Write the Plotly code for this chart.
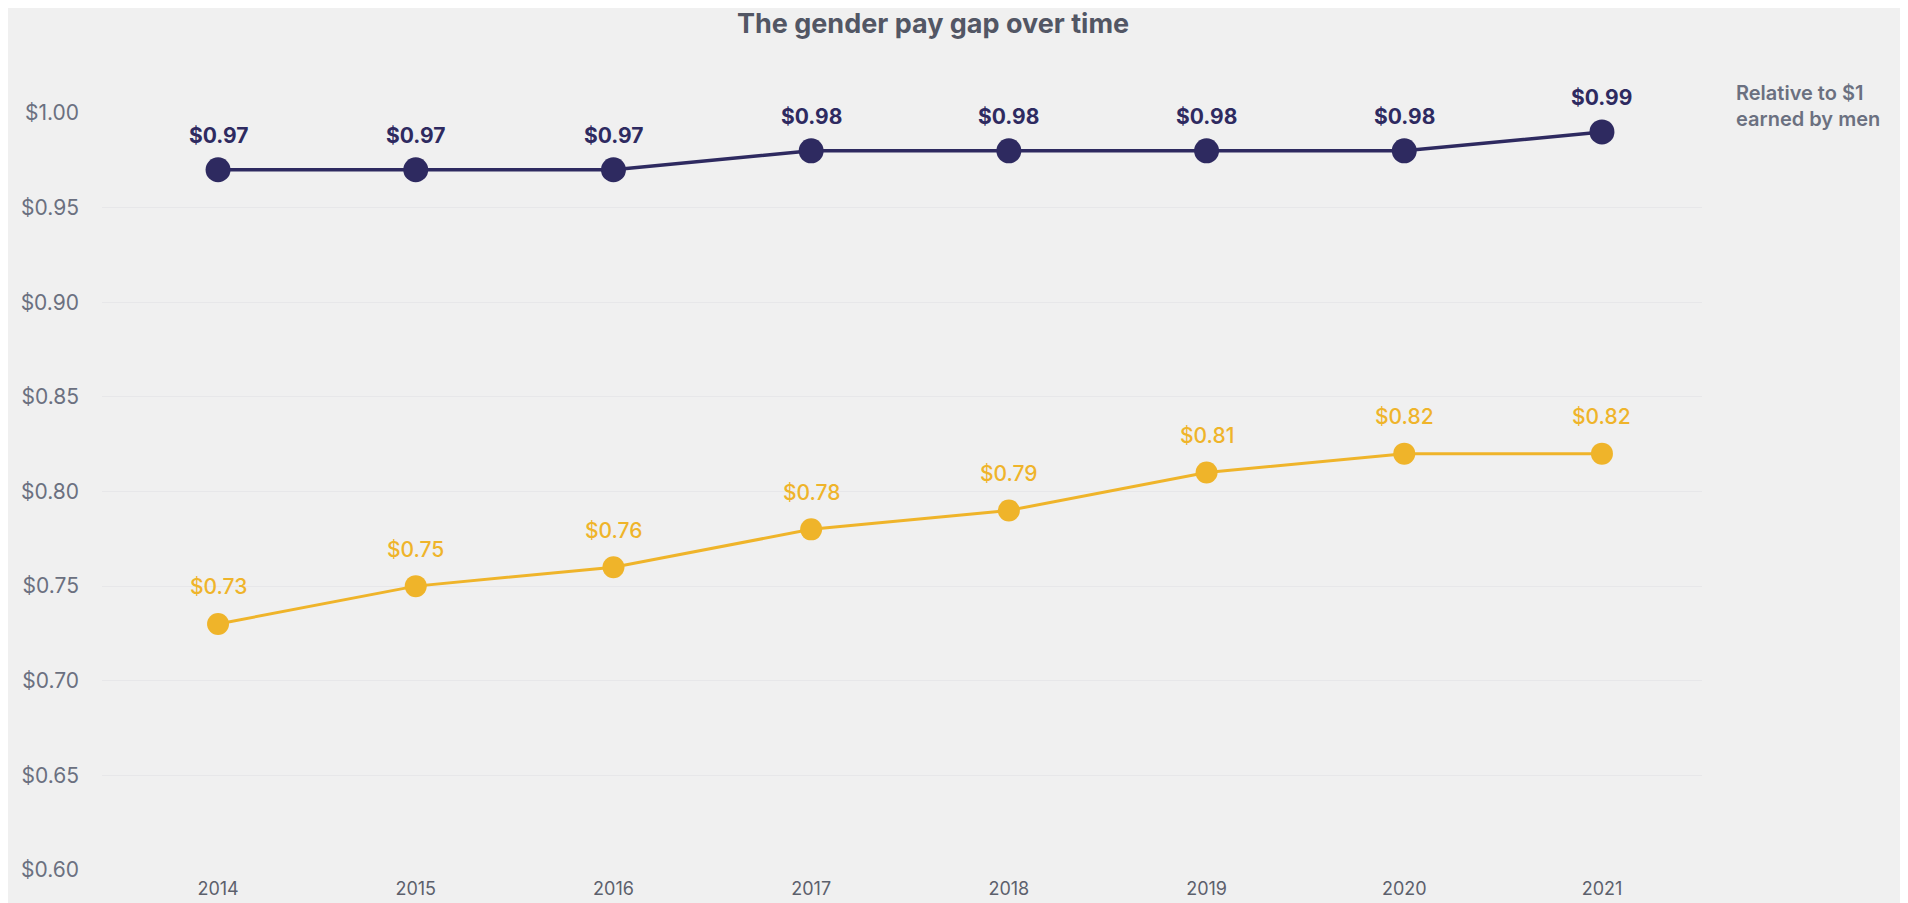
import plotly.graph_objects as go

years = [2014, 2015, 2016, 2017, 2018, 2019, 2020, 2021]
men_relative = [0.97, 0.97, 0.97, 0.98, 0.98, 0.98, 0.98, 0.99]
women_relative = [0.73, 0.75, 0.76, 0.78, 0.79, 0.81, 0.82, 0.82]
y_ticks = [0.60, 0.65, 0.70, 0.75, 0.80, 0.85, 0.90, 0.95, 1.00]
y_tick_labels = ["$0.60", "$0.65", "$0.70", "$0.75", "$0.80", "$0.85", "$0.90", "$0.95", "$1.00"]
title_text = "The gender pay gap over time"
side_note = "Relative to $1<br>earned by men"

NAVY = "#2e2a60"
GOLD = "#efb42a"
GRAY = "#6b7080"
FONT = "Inter"

fig = go.Figure()
fig.add_trace(go.Scatter(
    x=years, y=men_relative, mode="lines+markers",
    line=dict(color=NAVY, width=3.5),
    marker=dict(color=NAVY, size=25),
    hoverinfo="skip", showlegend=False,
))
fig.add_trace(go.Scatter(
    x=years, y=women_relative, mode="lines+markers",
    line=dict(color=GOLD, width=3),
    marker=dict(color=GOLD, size=22),
    hoverinfo="skip", showlegend=False,
))

for x, v in zip(years, men_relative):
    fig.add_annotation(x=x, y=v, xref="x", yref="y", text=f"${v:.2f}",
                       showarrow=False, yshift=34,
                       font=dict(family=FONT, size=21, color=NAVY, weight=700))
for x, v in zip(years, women_relative):
    fig.add_annotation(x=x, y=v, xref="x", yref="y", text=f"${v:.2f}",
                       showarrow=False, yshift=37,
                       font=dict(family=FONT, size=21, color=GOLD, weight=500))

fig.add_annotation(x=1.020, y=1.0092, xref="paper", yref="paper", text=side_note,
                   showarrow=False, xanchor="left", yanchor="middle", align="left",
                   font=dict(family=FONT, size=20, color=GRAY, weight=600))

fig.update_layout(
    width=1908, height=903,
    margin=dict(l=94, r=214, t=105, b=39),
    paper_bgcolor="#f0f0f0", plot_bgcolor="#f0f0f0",
    title=dict(text=title_text, x=925/1908, xanchor="center", y=1-16/903, yanchor="middle",
               font=dict(family=FONT, size=27, color="#525664", weight=700)),
    font=dict(family=FONT, color=GRAY),
)
fig.update_xaxes(range=[2013.413, 2021.506], tickvals=years, ticktext=[str(y) for y in years],
                 showgrid=False, zeroline=False, showline=False,
                 tickfont=dict(family=FONT, size=18, color="#5c606c"), ticklabelstandoff=6)
fig.update_yaxes(range=[0.60, 1.00], tickvals=y_ticks, ticktext=y_tick_labels,
                 showgrid=True, gridcolor="#e7e7e9", gridwidth=1, zeroline=False, showline=False,
                 tickfont=dict(family=FONT, size=21, color=GRAY), ticklabelstandoff=22)

fig.write_html("out.html")
